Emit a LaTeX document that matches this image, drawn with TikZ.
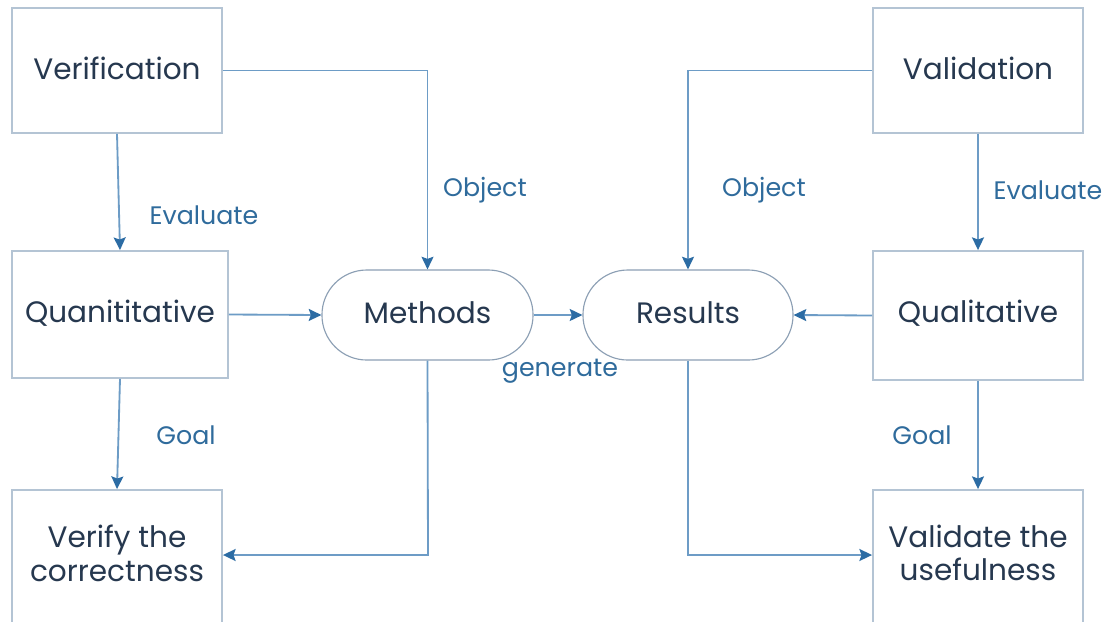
\documentclass[tikz,border=0pt]{standalone}
\usepackage{fontspec}
\setmainfont{Poppins}
\usetikzlibrary{arrows.meta}
\definecolor{txt}{HTML}{26384F}
\definecolor{lbl}{HTML}{2F6B9C}
\definecolor{ln}{HTML}{6D9CC6}
\definecolor{arr}{HTML}{2C6CA4}
\definecolor{bord}{HTML}{B4C4D4}
\definecolor{pill}{HTML}{8C9FB4}
\tikzset{
  box/.style={draw=bord, line width=1.3pt, text=txt, font=\fontsize{21}{24}\selectfont, align=center, inner sep=0pt},
  boxtext/.style={text=txt, font=\fontsize{21}{24}\selectfont, align=center, inner sep=0pt},
  pillbox/.style={draw=pill, line width=0.8pt, rounded corners=1.12cm, text=txt, font=\fontsize{21}{24}\selectfont, inner sep=0pt, minimum width=5.275cm, minimum height=2.25cm},
  conn/.style={draw=ln, line width=1.3pt, -{Stealth[length=9pt,width=8.5pt,inset=1.5pt,color=arr]}},
  lab/.style={text=lbl, font=\fontsize{18}{20}\selectfont, inner sep=0pt}
}
\begin{document}
\begin{tikzpicture}[x=0.025cm,y=-0.025cm]
\useasboundingbox (0,0) rectangle (1112,621);
\clip (0,0) rectangle (1112,621);
\fill[white] (0,0) rectangle (1112,621);
\node[box, minimum width=5.25cm, minimum height=3.125cm] (ver) at (117,70.5) {};
\node[boxtext] (vert) at (117,68) {Verification};
\node[box, minimum width=5.4cm, minimum height=3.175cm] (quan) at (120,314.5) {};
\node[boxtext] (quant) at (120,313) {Quanititative};
\node[box, minimum width=5.25cm, minimum height=3.35cm] (vfy) at (117,557) {};
\node[boxtext] (vfyt) at (117,553) {Verify the\\correctness};
\node[box, minimum width=5.25cm, minimum height=3.125cm] (vld) at (978,70.5) {};
\node[boxtext] (vldt) at (978,68) {Validation};
\node[box, minimum width=5.25cm, minimum height=3.225cm] (qual) at (978,315.5) {};
\node[boxtext] (qualt) at (978,313) {Qualitative};
\node[box, minimum width=5.25cm, minimum height=3.35cm] (vld2) at (978,557) {};
\node[boxtext] (vld2t) at (978,553) {Validate the\\usefulness};
\node[pillbox] (meth) at (427.5,315) {};
\node[boxtext] (metht) at (427.5,313) {Methods};
\node[pillbox, minimum width=5.25cm] (res) at (688,315) {};
\node[boxtext] (rest) at (688,313) {Results};
\coordinate (m1) at (428,555);
\coordinate (r1) at (688,555);
\draw[conn] (ver.east) -| (meth.north);
\draw[conn] (ver.south) -- (quan.north);
\draw[conn] (quan.east) -- (meth.west);
\draw[conn] (quan.south) -- (vfy.north);
\draw[conn] (meth.south) -- (m1) -- (m1 -| vfy.east);
\draw[conn] (meth.east) -- (res.west);
\draw[conn] (vld.west) -| (res.north);
\draw[conn] (vld.south) -- (qual.north);
\draw[conn] (qual.west) -- (res.east);
\draw[conn] (qual.south) -- (vld2.north);
\draw[conn] (res.south) -- (r1) -- (r1 -| vld2.west);
\node[lab] (l1) at (485,190) {Object};
\node[lab] (l2) at (204,215) {Evaluate};
\node[lab] (l3) at (186,435) {Goal};
\node[lab] (l4) at (560,371) {generate};
\node[lab] (l5) at (764,190) {Object};
\node[lab] (l6) at (1048,190) {Evaluate};
\node[lab] (l7) at (922,435) {Goal};
\end{tikzpicture}
\end{document}
